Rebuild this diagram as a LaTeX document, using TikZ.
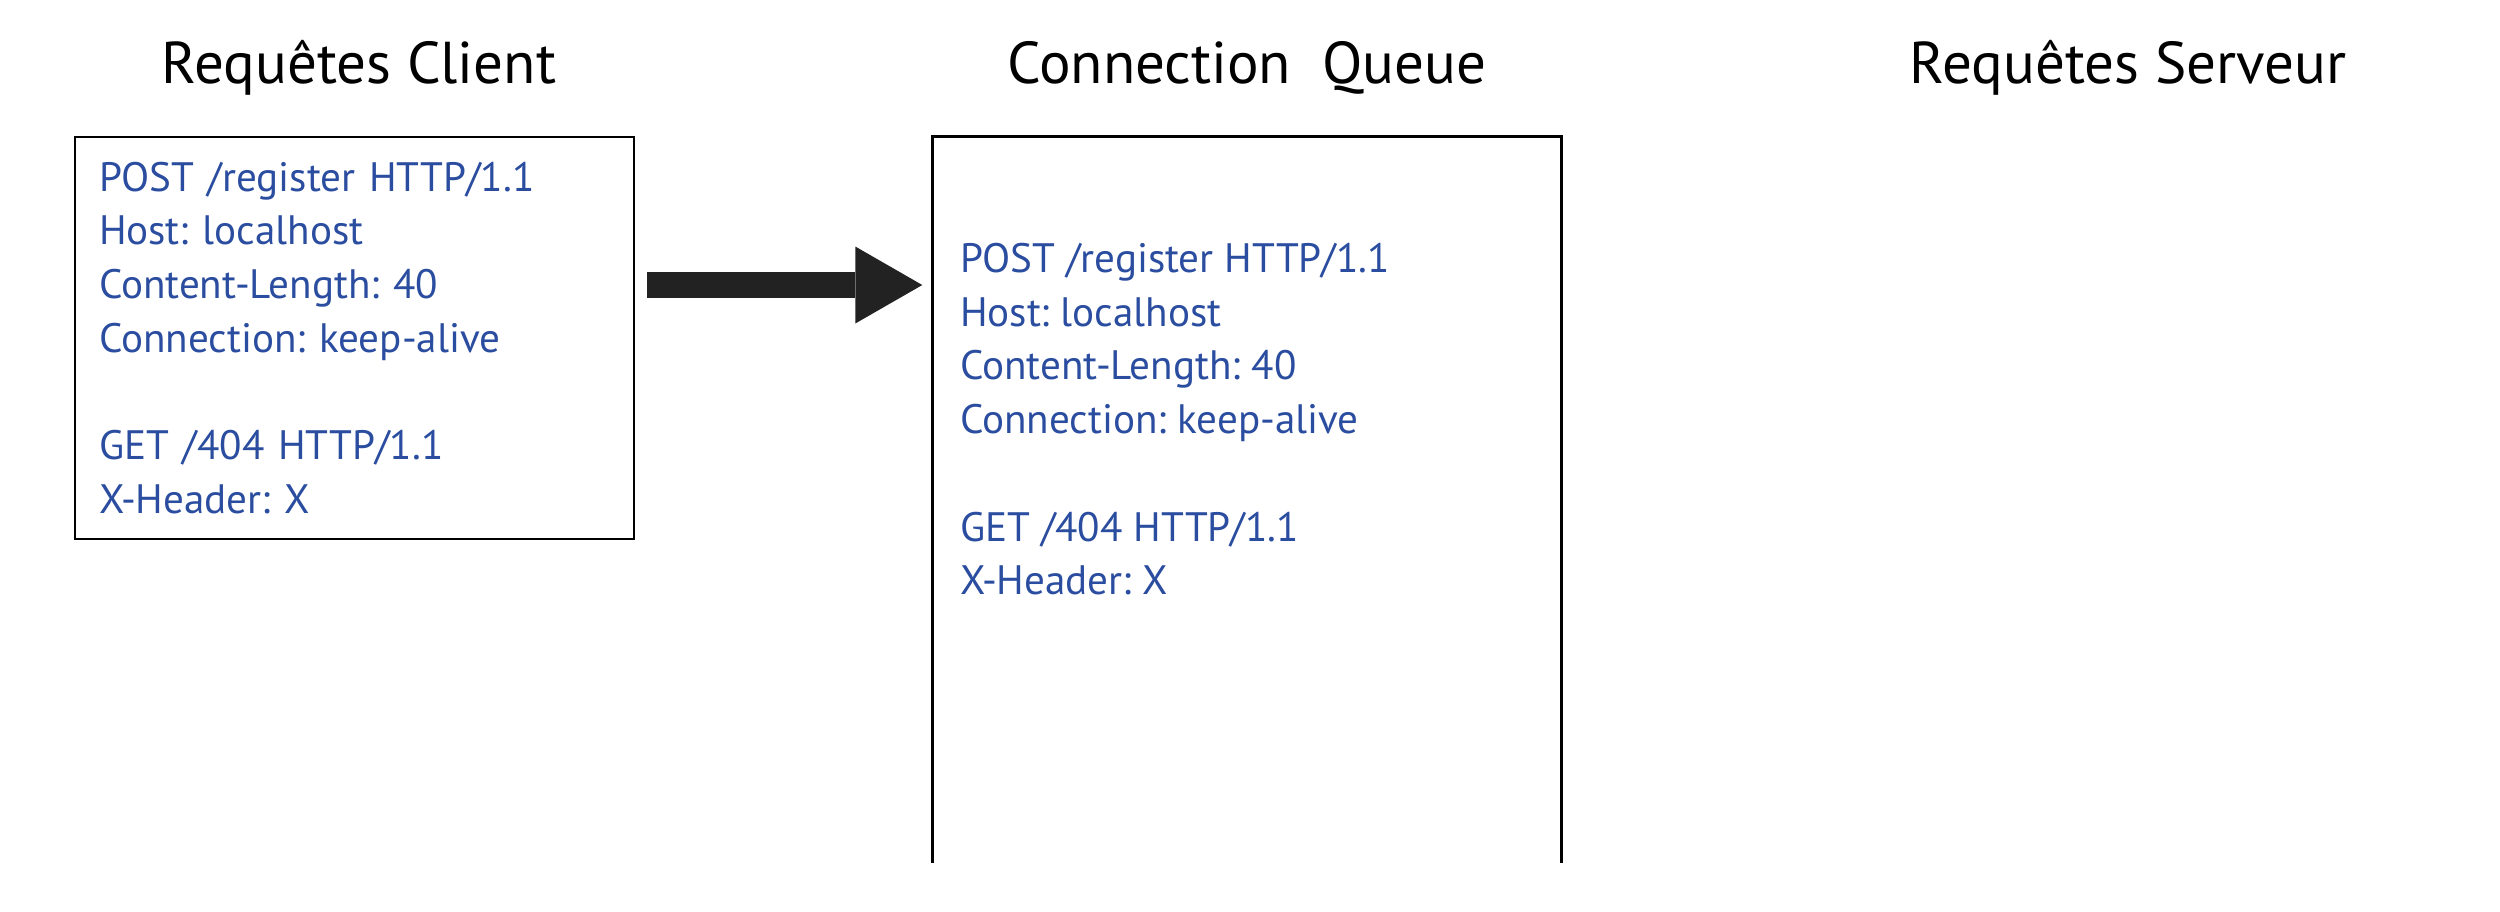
\documentclass[tikz,border=0pt]{standalone}
\usepackage{fontspec}
\setmainfont{PT Sans}
\usetikzlibrary{arrows.meta}
\definecolor{reqblue}{RGB}{43,77,160}
\definecolor{arrowgray}{RGB}{34,34,34}
\frenchspacing

\begin{document}
\begin{tikzpicture}[
		title/.style = {anchor=base, font=\fontsize{16.8}{20}\selectfont},
		reqtext/.style = {text=reqblue, align=left, font=\fontsize{11.7}{15.3}\selectfont},
		boxline/.style = {line width=.8pt},
		bigarrow/.style = {draw=arrowgray, line width=.26cm, -{Triangle[length=.67cm, width=.77cm, line width=0pt]}}
	]
		\useasboundingbox (0,0) rectangle (25,-9.11);
		
		\node[title] (clienttitle) at (3.59,-.83) {Requêtes Client};
		\node[title] (queuetitle) at (12.47,-.83) {Connection\ \ Queue};
		\node[title] (servertitle) at (21.28,-.83) {Requêtes Serveur};
		
		\node[reqtext, draw, boxline, minimum width=5.59cm, minimum height=4.02cm, text width=5.11cm, inner xsep=.24cm] (client) at (3.545,-3.38) {POST /register HTTP/1.1\\ Host: localhost\\ Content-Length: 40\\ Connection: keep-alive\\[15.3pt] GET /404 HTTP/1.1\\ X-Header: X};
		
		\node[minimum width=6.28cm, minimum height=7.25cm] (queue) at (12.47,-4.995) {};
		\draw[boxline] (queue.south west) -- (queue.north west) -- (queue.north east) -- (queue.south east);
		\node[reqtext, anchor=north west, inner sep=0pt] (queuetext) at ([xshift=.27cm, yshift=-1.06cm]queue.north west) {POST /register HTTP/1.1\\ Host: localhost\\ Content-Length: 40\\ Connection: keep-alive\\[15.3pt] GET /404 HTTP/1.1\\ X-Header: X};
		
		\coordinate (arrowlevel) at (0,-2.85);
		\draw[bigarrow, shorten <=.12cm, shorten >=.1cm] (client.east |- arrowlevel) -- (queue.west |- arrowlevel);
	\end{tikzpicture}
\end{document}
